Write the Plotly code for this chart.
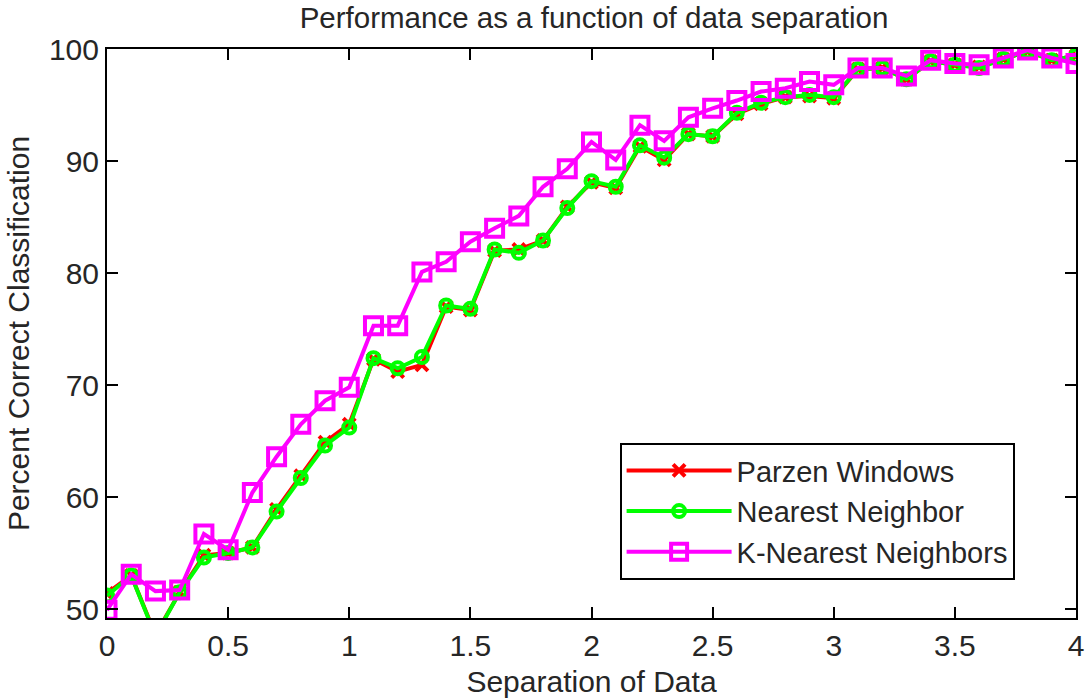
import plotly.graph_objects as go

separation = [0.0, 0.1, 0.2, 0.3, 0.4, 0.5, 0.6, 0.7, 0.8, 0.9,
              1.0, 1.1, 1.2, 1.3, 1.4, 1.5, 1.6, 1.7, 1.8, 1.9,
              2.0, 2.1, 2.2, 2.3, 2.4, 2.5, 2.6, 2.7, 2.8, 2.9,
              3.0, 3.1, 3.2, 3.3, 3.4, 3.5, 3.6, 3.7, 3.8, 3.9, 4.0]

parzen = [51.4, 53.0, 47.7, 51.5, 54.8, 55.0, 55.5, 58.9, 61.9, 64.9,
          66.5, 72.3, 71.2, 71.8, 77.0, 76.7, 82.0, 82.1, 82.9, 85.9,
          88.1, 87.6, 91.3, 90.1, 92.4, 92.2, 94.2, 95.1, 95.7, 95.8,
          95.6, 98.2, 98.3, 97.3, 98.9, 98.6, 98.4, 99.1, 99.8, 99.0, 99.4]

nearest = [51.2, 53.0, 47.6, 51.5, 54.6, 55.0, 55.5, 58.7, 61.7, 64.6,
           66.2, 72.4, 71.5, 72.5, 77.1, 76.8, 82.1, 81.8, 82.9, 85.8,
           88.2, 87.7, 91.4, 90.3, 92.4, 92.2, 94.3, 95.2, 95.7, 95.9,
           95.7, 98.2, 98.3, 97.3, 98.9, 98.6, 98.3, 99.1, 99.8, 99.0, 99.4]

knn = [49.9, 53.1, 51.6, 51.7, 56.7, 55.3, 60.4, 63.6, 66.5, 68.6,
       69.8, 75.3, 75.3, 80.1, 81.0, 82.8, 84.0, 85.1, 87.7, 89.3,
       91.7, 90.1, 93.2, 91.8, 93.9, 94.7, 95.4, 96.2, 96.5, 97.1,
       96.8, 98.3, 98.3, 97.6, 99.0, 98.7, 98.6, 99.2, 99.9, 99.2, 98.7]

x_ticks = [0, 0.5, 1, 1.5, 2, 2.5, 3, 3.5, 4]
x_tick_text = ["0", "0.5", "1", "1.5", "2", "2.5", "3", "3.5", "4"]
y_ticks = [50, 60, 70, 80, 90, 100]
y_tick_text = ["50", "60", "70", "80", "90", "100"]

FONT = "Liberation Sans, Arial, sans-serif"
TXT = "#262626"
FS = 30

fig = go.Figure()
fig.add_trace(go.Scatter(
    x=separation, y=parzen, name="Parzen Windows", mode="lines+markers",
    line=dict(color="#FF0000", width=4),
    marker=dict(symbol="x-thin-open", size=12, color="#FF0000",
                line=dict(color="#FF0000", width=4)),
))
fig.add_trace(go.Scatter(
    x=separation, y=nearest, name="Nearest Neighbor", mode="lines+markers",
    line=dict(color="#00FF00", width=4),
    marker=dict(symbol="circle-open", size=12, color="#00FF00",
                line=dict(color="#00FF00", width=4)),
))
fig.add_trace(go.Scatter(
    x=separation, y=knn, name="K-Nearest Neighbors", mode="lines+markers",
    line=dict(color="#FF00FF", width=4),
    marker=dict(symbol="square-open", size=17, color="#FF00FF",
                line=dict(color="#FF00FF", width=4)),
))

axis_common = dict(
    showline=True, linecolor="black", linewidth=2, mirror="ticks",
    ticks="inside", ticklen=11, tickwidth=2, tickcolor="black",
    showgrid=False, zeroline=False, automargin=False,
    tickfont=dict(family=FONT, size=FS, color=TXT),
)

fig.update_layout(
    width=1086, height=698,
    margin=dict(l=107, r=10, t=49, b=80, autoexpand=False),
    paper_bgcolor="white", plot_bgcolor="white",
    font=dict(family=FONT, size=FS, color=TXT),
    title=dict(text="Performance as a function of data separation",
               x=0.547, xanchor="center", y=0.975, yanchor="middle",
               font=dict(family=FONT, size=29.5, color=TXT)),
    xaxis=dict(range=[0, 4], tickvals=x_ticks, ticktext=x_tick_text,
               title=dict(text="Separation of Data", standoff=12,
                          font=dict(family=FONT, size=FS, color=TXT)),
               **axis_common),
    yaxis=dict(range=[49.2, 100], tickvals=y_ticks, ticktext=y_tick_text,
               title=dict(text="Percent Correct Classification", standoff=10,
                          font=dict(family=FONT, size=FS, color=TXT)),
               **axis_common),
    legend=dict(x=0.529, y=0.3075, xanchor="left", yanchor="top",
                bgcolor="white", bordercolor="black", borderwidth=2,
                font=dict(family=FONT, size=29, color=TXT),
                itemwidth=105, tracegroupgap=0),
    showlegend=True,
)

fig.write_html("out.html")
